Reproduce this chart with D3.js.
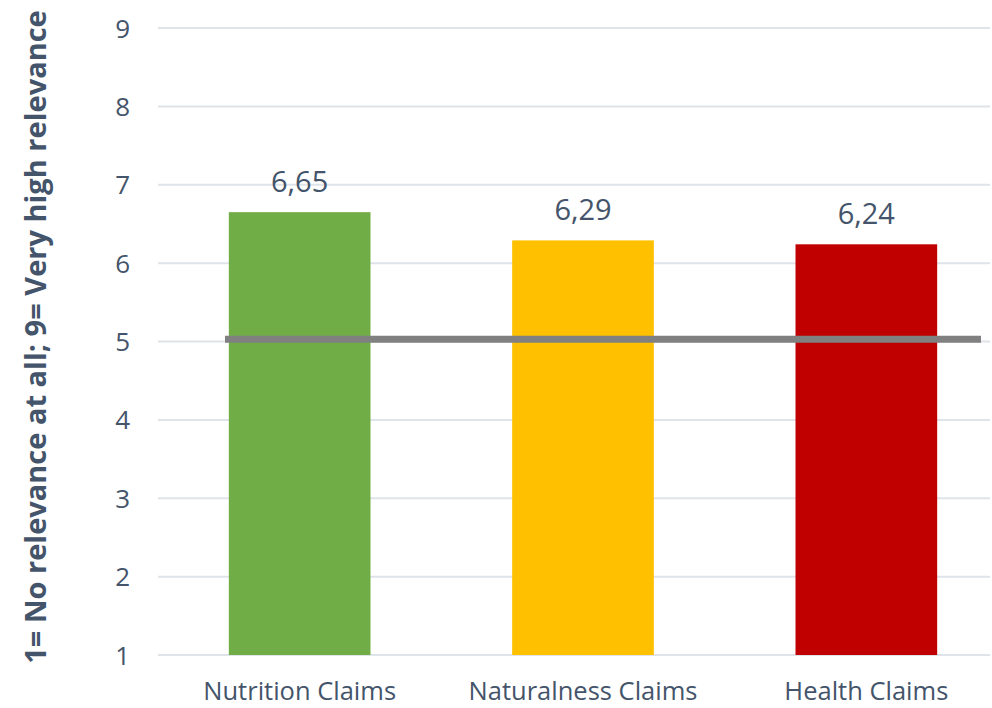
<!DOCTYPE html>
<html>
<head>
<meta charset="utf-8">
<script src="https://cdn.jsdelivr.net/npm/d3@7"></script>
<style>
  html, body { margin: 0; padding: 0; background: #ffffff; }
  svg text { font-family: "Open Sans", "Noto Sans", sans-serif; }
</style>
</head>
<body>
<svg id="chart" width="992" height="708"></svg>
<script>
// Mean relevance ratings per claim type (scale 1–9)
const categories = ["Nutrition Claims", "Naturalness Claims", "Health Claims"];
const values = [6.65, 6.29, 6.24];
const valueLabels = ["6,65", "6,29", "6,24"];
const barColors = ["#70ad47", "#ffc000", "#c00000"];
const yTicks = [1, 2, 3, 4, 5, 6, 7, 8, 9];
const referenceValue = [5.03];
const axisTitle = "1= No relevance at all; 9= Very high relevance";

const svg = d3.select("#chart");
const textColor = "#44546a";

const x = d3.scaleBand()
  .domain(categories)
  .range([158, 1008])
  .paddingInner(0.5)
  .paddingOuter(0.25);

const y = d3.scaleLinear()
  .domain([1, 9])
  .range([655, 28]);

// Horizontal gridlines
svg.append("g")
  .selectAll("line")
  .data(yTicks)
  .join("line")
  .attr("x1", 158)
  .attr("x2", 990)
  .attr("y1", d => y(d))
  .attr("y2", d => y(d))
  .attr("stroke", "#dfe3ea")
  .attr("stroke-width", 2);

// Y axis labels
const yAxis = d3.axisLeft(y).tickValues(yTicks).tickSize(0).tickPadding(0);
const yG = svg.append("g")
  .attr("transform", "translate(130,0)")
  .call(yAxis);
yG.select(".domain").remove();
yG.selectAll("text")
  .attr("font-size", 26)
  .attr("fill", textColor)
  .attr("text-anchor", "end")
  .attr("dy", "0.35em");

// Bars
svg.append("g")
  .selectAll("rect")
  .data(categories)
  .join("rect")
  .attr("x", d => x(d))
  .attr("width", x.bandwidth())
  .attr("y", (d, i) => y(values[i]))
  .attr("height", (d, i) => y(1) - y(values[i]))
  .attr("fill", (d, i) => barColors[i]);

// Value labels
svg.append("g")
  .selectAll("text")
  .data(categories)
  .join("text")
  .attr("x", d => x(d) + x.bandwidth() / 2)
  .attr("y", (d, i) => y(values[i]) - 20)
  .attr("text-anchor", "middle")
  .attr("font-size", 29)
  .attr("fill", textColor)
  .text((d, i) => valueLabels[i]);

// Reference line at scale midpoint
svg.append("g")
  .selectAll("line")
  .data(referenceValue)
  .join("line")
  .attr("x1", 225)
  .attr("x2", 981)
  .attr("y1", d => y(d))
  .attr("y2", d => y(d))
  .attr("stroke", "#808080")
  .attr("stroke-width", 7);

// X axis labels
const xAxis = d3.axisBottom(x).tickSize(0).tickPadding(0);
const xG = svg.append("g")
  .attr("transform", "translate(0,700)")
  .call(xAxis);
xG.select(".domain").remove();
xG.selectAll("text")
  .attr("font-size", 25.5)
  .attr("fill", textColor)
  .attr("dy", 0)
  .attr("y", 0);

// Y axis title
svg.append("text")
  .attr("transform", "translate(46,337) rotate(-90)")
  .attr("text-anchor", "middle")
  .attr("font-size", 29)
  .attr("font-weight", "bold")
  .attr("fill", textColor)
  .text(axisTitle);
</script>
</body>
</html>
